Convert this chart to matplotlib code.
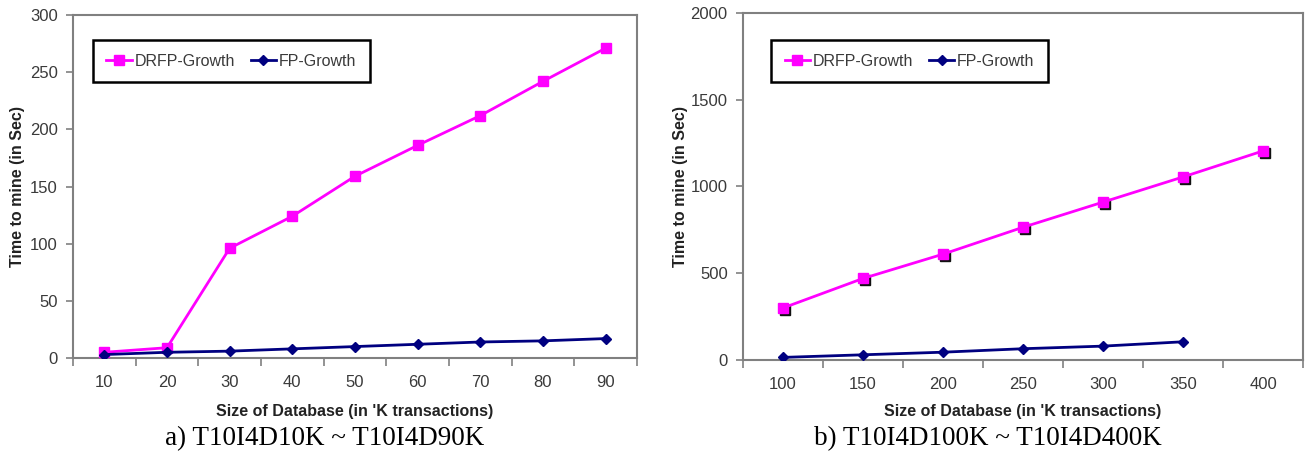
import matplotlib
matplotlib.use("Agg")
import matplotlib.pyplot as plt
import matplotlib.transforms as mtransforms
import numpy as np

# Data
cats_a = ["10", "20", "30", "40", "50", "60", "70", "80", "90"]
drfp_a = [5, 9, 96, 124, 159, 186, 212, 242, 271]
fp_a = [3, 5, 6, 8, 10, 12, 14, 15, 17]

cats_b = ["100", "150", "200", "250", "300", "350", "400"]
drfp_b = [300, 470, 610, 765, 910, 1055, 1205]
fp_b = [15, 30, 45, 65, 80, 105]

yticks_a = [0, 50, 100, 150, 200, 250, 300]
yticks_b = [0, 500, 1000, 1500, 2000]

xlabel = "Size of Database (in 'K transactions)"
ylabel = "Time to mine (in Sec)"
caption_a = "a) T10I4D10K ~ T10I4D90K"
caption_b = "b) T10I4D100K ~ T10I4D400K"

PINK = "#FF00FF"
NAVY = "#000080"
GRAY = "#808080"
TXT = "#3a3a3a"

plt.rcParams["font.family"] = ["Liberation Sans", "DejaVu Sans"]

fig = plt.figure(figsize=(13.07, 4.61), dpi=100)
W, H = 1307, 461

def make_ax(l, r, t, b):
    return fig.add_axes([l / W, 1 - b / H, (r - l) / W, (b - t) / H])

def style(ax, cats, yticks, ylab_x, xlab_y):
    n = len(cats)
    ax.set_xlim(-0.5, n - 0.5)
    ax.set_ylim(yticks[0], yticks[-1])
    ax.set_xticks(np.arange(n))
    ax.set_xticklabels(cats)
    ax.set_xticks(np.arange(n + 1) - 0.5, minor=True)
    ax.tick_params(axis="x", which="major", length=0, pad=12, labelsize=12, labelcolor=TXT)
    ax.tick_params(axis="x", which="minor", length=6, width=1.2, color=GRAY, direction="out")
    ax.set_yticks(yticks)
    ax.tick_params(axis="y", length=5, width=1.2, color=GRAY, direction="out", labelsize=12, labelcolor=TXT, pad=6)
    for s in ax.spines.values():
        s.set_color(GRAY)
        s.set_linewidth(1.5)
    ax.set_xlabel(xlabel, fontsize=11.5, fontweight="bold", color="#222222")
    ax.set_ylabel(ylabel, fontsize=11.5, fontweight="bold", color="#222222")
    ax.yaxis.set_label_coords(ylab_x, 0.5)
    ax.xaxis.set_label_coords(0.5, xlab_y)

def legend(ax, bbox):
    leg = ax.legend(loc="upper left", bbox_to_anchor=bbox, ncol=2, fancybox=False,
                    edgecolor="black", fontsize=11.5, handlelength=1.6, columnspacing=1.0,
                    borderpad=0.85, handletextpad=0.15, borderaxespad=0, framealpha=1)
    leg.get_frame().set_linewidth(1.8)
    for t in leg.get_texts():
        t.set_color(TXT)

# Panel a
ax1 = make_ax(73, 637, 15, 358)
x1 = np.arange(len(cats_a))
ax1.plot(x1, drfp_a, color=PINK, lw=2, marker="s", ms=7, mec=PINK, label="DRFP-Growth", zorder=3)
ax1.plot(x1, fp_a, color=NAVY, lw=2, marker="D", ms=5, mec=NAVY, label="FP-Growth", zorder=4)
style(ax1, cats_a, yticks_a, -0.085, -0.134)
legend(ax1, (0.035, 0.927))

# Panel b
ax2 = make_ax(743, 1303, 13, 360)
x2 = np.arange(len(cats_b))
shadow = mtransforms.offset_copy(ax2.transData, fig=fig, x=1.5, y=-2.0, units="dots")
ax2.plot(x2, drfp_b, ls="none", marker="s", ms=7, color="#111111", transform=shadow, zorder=2)
ax2.plot(x2, drfp_b, color=PINK, lw=2, marker="s", ms=7, mec=PINK, label="DRFP-Growth", zorder=3)
ax2.plot(x2[:len(fp_b)], fp_b, color=NAVY, lw=2, marker="D", ms=5, mec=NAVY, label="FP-Growth", zorder=4)
style(ax2, cats_b, yticks_b, -0.098, -0.127)
legend(ax2, (0.05, 0.922))

fig.text(325 / W, 1 - 439 / H, caption_a, family="Liberation Serif", fontsize=19.5, ha="center", va="center")
fig.text(988 / W, 1 - 439 / H, caption_b, family="Liberation Serif", fontsize=19.5, ha="center", va="center")

fig.savefig("out.png", dpi=100, facecolor="white")
